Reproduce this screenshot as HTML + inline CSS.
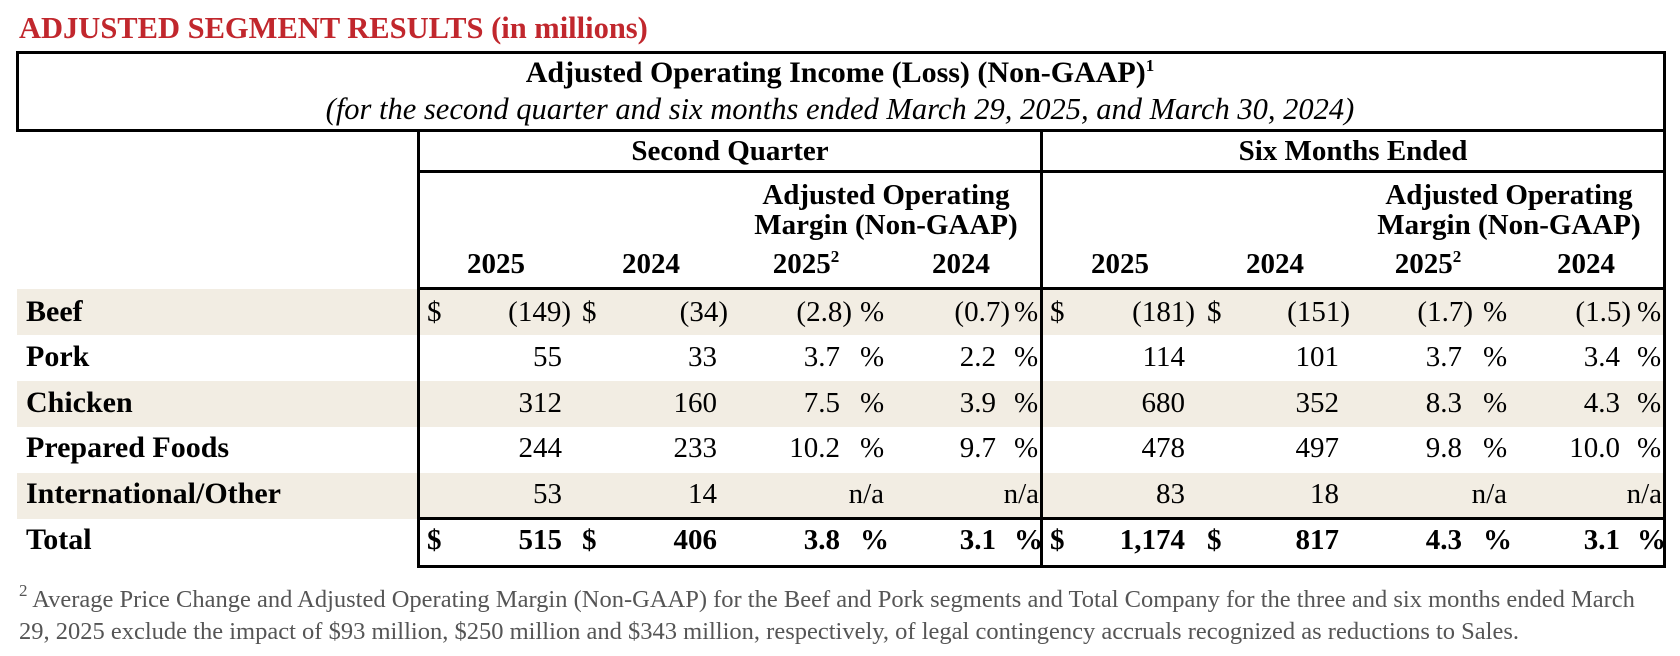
<!DOCTYPE html>
<html><head><meta charset="utf-8"><style>
body{margin:0;width:1680px;height:656px;background:#fff;position:relative;overflow:hidden;font-family:"Liberation Serif",serif;color:#000}
div{position:absolute;white-space:nowrap}
.t{font-size:29px;height:30px;line-height:30px}
.b{font-weight:bold}
.lb{font-size:30px}
.h{font-weight:bold;font-size:29px;line-height:30px;text-align:center}
.ln{background:#000}
.sh{background:#f2ede3;left:17px;width:1647px;height:46px}
sup{font-size:17px;vertical-align:11px;line-height:0}
</style></head><body>
<div style="left:19px;top:10px;font-size:30.5px;font-weight:bold;color:#c1272d;line-height:36px">ADJUSTED SEGMENT RESULTS (in millions)</div>

<div class="sh" style="top:289px"></div>
<div class="sh" style="top:381px"></div>
<div class="sh" style="top:473px"></div>

<div class="ln" style="left:16px;top:51px;width:1650px;height:3px"></div>
<div class="ln" style="left:16px;top:51px;width:3px;height:81px"></div>
<div class="ln" style="left:16px;top:129px;width:1650px;height:3px"></div>
<div class="ln" style="left:1663px;top:51px;width:3px;height:517px"></div>
<div class="ln" style="left:417px;top:129px;width:3px;height:439px"></div>
<div class="ln" style="left:1040px;top:129px;width:3px;height:439px"></div>
<div class="ln" style="left:417px;top:170px;width:1249px;height:3px"></div>
<div class="ln" style="left:417px;top:287px;width:1249px;height:3px"></div>
<div class="ln" style="left:417px;top:517px;width:1249px;height:3px"></div>
<div class="ln" style="left:417px;top:565px;width:1249px;height:3px"></div>

<div class="h" style="left:0;width:1680px;top:58px;font-size:30px">Adjusted Operating Income (Loss) (Non-GAAP)<sup>1</sup></div>
<div style="left:0;width:1680px;top:94px;font-size:30.5px;font-style:italic;text-align:center;line-height:30px">(for the second quarter and six months ended March 29, 2025, and March 30, 2024)</div>
<div class="h" style="left:430px;width:600px;top:136px">Second Quarter</div>
<div class="h" style="left:1053px;width:600px;top:136px">Six Months Ended</div>
<div class="h" style="left:716px;width:340px;top:180px">Adjusted Operating</div>
<div class="h" style="left:716px;width:340px;top:210px">Margin (Non-GAAP)</div>
<div class="h" style="left:1339px;width:340px;top:180px">Adjusted Operating</div>
<div class="h" style="left:1339px;width:340px;top:210px">Margin (Non-GAAP)</div>
<div class="h" style="left:436px;width:120px;top:249px">2025</div>
<div class="h" style="left:591px;width:120px;top:249px">2024</div>
<div class="h" style="left:746px;width:120px;top:249px">2025<sup>2</sup></div>
<div class="h" style="left:901px;width:120px;top:249px">2024</div>
<div class="h" style="left:1060px;width:120px;top:249px">2025</div>
<div class="h" style="left:1215px;width:120px;top:249px">2024</div>
<div class="h" style="left:1368px;width:120px;top:249px">2025<sup>2</sup></div>
<div class="h" style="left:1526px;width:120px;top:249px">2024</div>

<div class="t b lb" style="left:26px;top:297px">Beef</div>
<div class="t b lb" style="left:26px;top:342px">Pork</div>
<div class="t b lb" style="left:26px;top:388px">Chicken</div>
<div class="t b lb" style="left:26px;top:433px">Prepared Foods</div>
<div class="t b lb" style="left:26px;top:479px">International/Other</div>
<div class="t b lb" style="left:26px;top:525px">Total</div>

<div class="t" style="left:427px;top:297px">$</div>
<div class="t" style="right:1109px;top:297px">(149)</div>
<div class="t" style="left:582px;top:297px">$</div>
<div class="t" style="right:952px;top:297px">(34)</div>
<div class="t" style="right:828px;top:297px">(2.8)</div><div class="t" style="left:860px;top:297px">%</div>
<div class="t" style="right:670px;top:297px">(0.7)</div><div class="t" style="left:1014px;top:297px">%</div>
<div class="t" style="left:1050px;top:297px">$</div>
<div class="t" style="right:485px;top:297px">(181)</div>
<div class="t" style="left:1207px;top:297px">$</div>
<div class="t" style="right:330px;top:297px">(151)</div>
<div class="t" style="right:207px;top:297px">(1.7)</div><div class="t" style="left:1483px;top:297px">%</div>
<div class="t" style="right:49px;top:297px">(1.5)</div><div class="t" style="left:1637px;top:297px">%</div>

<div class="t" style="right:1118px;top:342px">55</div>
<div class="t" style="right:963px;top:342px">33</div>
<div class="t" style="right:840px;top:342px">3.7</div><div class="t" style="left:860px;top:342px">%</div>
<div class="t" style="right:684px;top:342px">2.2</div><div class="t" style="left:1014px;top:342px">%</div>
<div class="t" style="right:495px;top:342px">114</div>
<div class="t" style="right:341px;top:342px">101</div>
<div class="t" style="right:218px;top:342px">3.7</div><div class="t" style="left:1483px;top:342px">%</div>
<div class="t" style="right:60px;top:342px">3.4</div><div class="t" style="left:1637px;top:342px">%</div>

<div class="t" style="right:1118px;top:388px">312</div>
<div class="t" style="right:963px;top:388px">160</div>
<div class="t" style="right:840px;top:388px">7.5</div><div class="t" style="left:860px;top:388px">%</div>
<div class="t" style="right:684px;top:388px">3.9</div><div class="t" style="left:1014px;top:388px">%</div>
<div class="t" style="right:495px;top:388px">680</div>
<div class="t" style="right:341px;top:388px">352</div>
<div class="t" style="right:218px;top:388px">8.3</div><div class="t" style="left:1483px;top:388px">%</div>
<div class="t" style="right:60px;top:388px">4.3</div><div class="t" style="left:1637px;top:388px">%</div>

<div class="t" style="right:1118px;top:433px">244</div>
<div class="t" style="right:963px;top:433px">233</div>
<div class="t" style="right:840px;top:433px">10.2</div><div class="t" style="left:860px;top:433px">%</div>
<div class="t" style="right:684px;top:433px">9.7</div><div class="t" style="left:1014px;top:433px">%</div>
<div class="t" style="right:495px;top:433px">478</div>
<div class="t" style="right:341px;top:433px">497</div>
<div class="t" style="right:218px;top:433px">9.8</div><div class="t" style="left:1483px;top:433px">%</div>
<div class="t" style="right:60px;top:433px">10.0</div><div class="t" style="left:1637px;top:433px">%</div>

<div class="t" style="right:1118px;top:479px">53</div>
<div class="t" style="right:963px;top:479px">14</div>
<div class="t" style="right:796px;top:479px">n/a</div>
<div class="t" style="right:641px;top:479px">n/a</div>
<div class="t" style="right:495px;top:479px">83</div>
<div class="t" style="right:341px;top:479px">18</div>
<div class="t" style="right:173px;top:479px">n/a</div>
<div class="t" style="right:18px;top:479px">n/a</div>

<div class="t b" style="left:427px;top:525px">$</div>
<div class="t b" style="right:1118px;top:525px">515</div>
<div class="t b" style="left:582px;top:525px">$</div>
<div class="t b" style="right:963px;top:525px">406</div>
<div class="t b" style="right:840px;top:525px">3.8</div><div class="t b" style="left:860px;top:525px">%</div>
<div class="t b" style="right:684px;top:525px">3.1</div><div class="t b" style="left:1014px;top:525px">%</div>
<div class="t b" style="left:1050px;top:525px">$</div>
<div class="t b" style="right:495px;top:525px">1,174</div>
<div class="t b" style="left:1207px;top:525px">$</div>
<div class="t b" style="right:341px;top:525px">817</div>
<div class="t b" style="right:218px;top:525px">4.3</div><div class="t b" style="left:1483px;top:525px">%</div>
<div class="t b" style="right:60px;top:525px">3.1</div><div class="t b" style="left:1637px;top:525px">%</div>

<div style="left:19px;top:584px;font-size:24.5px;color:#555;line-height:32px;white-space:normal;width:1630px"><sup>2</sup> Average Price Change and Adjusted Operating Margin (Non-GAAP) for the Beef and Pork segments and Total Company for the three and six months ended March 29, 2025 exclude the impact of $93 million, $250 million and $343 million, respectively, of legal contingency accruals recognized as reductions to Sales.</div>
</body></html>
